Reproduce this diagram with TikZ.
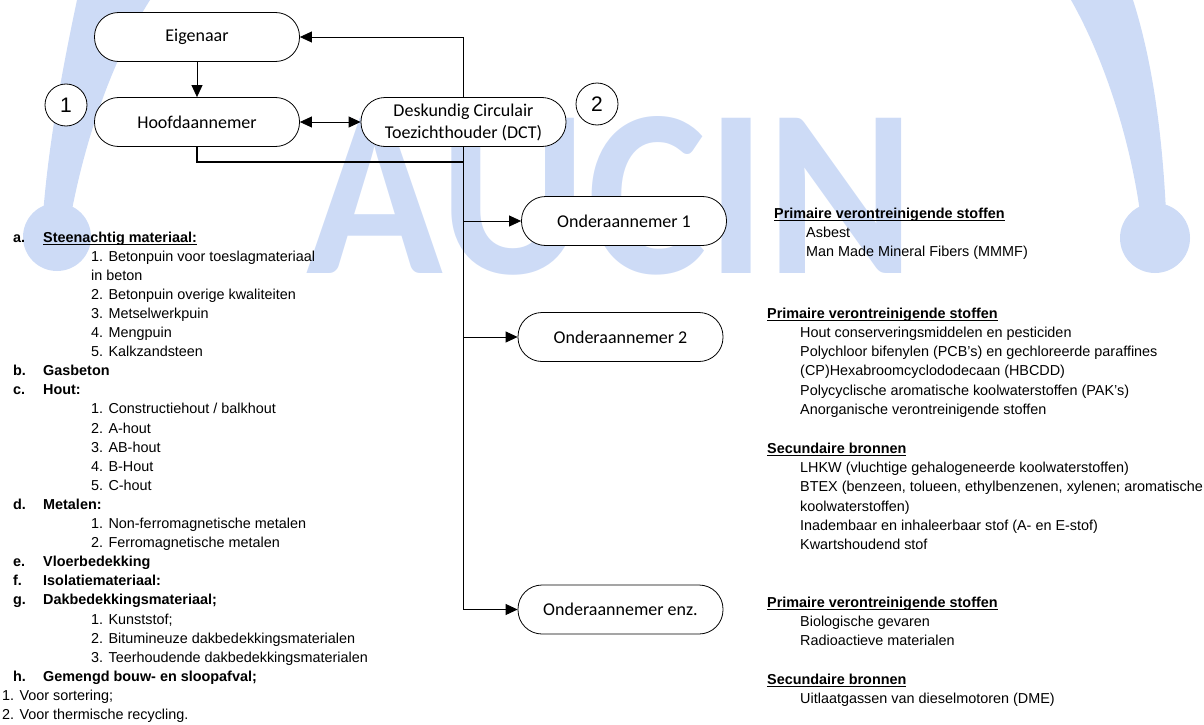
\documentclass[tikz,border=0pt]{standalone}
\usepackage{fontspec}
\setmainfont{Liberation Sans}
\newfontfamily\knoopfont{Carlito}
\usetikzlibrary{arrows.meta,positioning}
\definecolor{aucinblauw}{RGB}{205,219,246}
\newcommand{\onderstreept}[1]{\setbox0\hbox{#1}\rlap{\rule[-2.6pt]{\wd0}{0.9pt}}\box0}
\tikzset{
  knoop/.style={draw, fill=white, rounded corners=24pt, minimum width=205pt, minimum height=49pt,
    inner sep=0pt, align=center, line width=0.8pt, font=\knoopfont\fontsize{18}{22}\selectfont},
  nummer/.style={draw, fill=white, circle, minimum size=42pt, inner sep=0pt, line width=0.8pt,
    font=\fontsize{21}{21}\selectfont},
  pijl/.style={-{Triangle[length=12pt,width=11pt]}, line width=0.8pt},
  dubbelpijl/.style={{Triangle[length=12pt,width=11pt]}-{Triangle[length=12pt,width=11pt]}, line width=0.8pt},
  lijst/.style={anchor=base west, inner sep=0pt, font=\fontsize{14.4}{19.1}\selectfont},
  lijstr/.style={anchor=base west, inner sep=0pt, font=\fontsize{14.4}{19.3}\selectfont},
}
\begin{document}
\begin{tikzpicture}[x=1pt, y=-1pt]  %pixels
\useasboundingbox (0,0) rectangle (1204,725);
        %Watermerk
\fill[aucinblauw] (77,0) .. controls (60,80) and (48,150) .. (43,215) -- (71,215) .. controls (85,140) and (112,60) .. (150,0) -- cycle;
\fill[aucinblauw] (57,237) circle (34pt);
\fill[aucinblauw] (1071,0) .. controls (1105,60) and (1130,140) .. (1140,212) -- (1166,212) .. controls (1162,130) and (1152,60) .. (1133,0) -- cycle;
\fill[aucinblauw] (1155,238) circle (35pt);
\node[aucinblauw, anchor=base, inner sep=0pt, font=\knoopfont\bfseries\fontsize{240}{240}\selectfont] (watermerk) at (611,273) {\resizebox{608pt}{157pt}{AUCIN}};
        %Knopen
\node[knoop] (eigenaar) at (197,37) {Eigenaar};
\node[knoop] (hoofd) at (197,122) {Hoofdaannemer};
\node[knoop] (dct) at (463.5,122) {Deskundig Circulair\\Toezichthouder (DCT)};
\node[knoop] (onder1) at (624,221) {Onderaannemer 1};
\node[knoop] (onder2) at (620.5,337) {Onderaannemer 2};
\node[knoop] (onderenz) at (620.5,609.5) {Onderaannemer enz.};
\node[nummer] (een) at (66,105) {1};
\node[nummer] (twee) at (597,104) {2};
        %Verbindingen
\draw[pijl] (eigenaar) -- (hoofd);
\draw[pijl] (dct.north) |- (eigenaar.east);
\draw[dubbelpijl] (hoofd) -- (dct);
\coordinate (knik) at (463.5,162);
\draw[line width=1.5pt] (hoofd.south) |- (knik);
\draw[line width=1.5pt] (dct.south) -- (knik);
\draw[pijl] (knik) |- (onderenz.west);
\draw[pijl] (knik |- onder1.west) -- (onder1.west); %Onderaannemer 1
\draw[pijl] (knik |- onder2.west) -- (onder2.west); %Onderaannemer 2
        %Materialen
\node[lijst] (materialen) at (13,242) {\begin{tabular}[t]{@{}p{30pt}@{}l@{}}
\textbf{a.} & \onderstreept{\textbf{Steenachtig materiaal:}}\\
 & \hspace*{48pt}1. Betonpuin voor toeslagmateriaal\\
 & \hspace*{48pt}in beton\\
 & \hspace*{48pt}2. Betonpuin overige kwaliteiten\\
 & \hspace*{48pt}3. Metselwerkpuin\\
 & \hspace*{48pt}4. Mengpuin\\
 & \hspace*{48pt}5. Kalkzandsteen\\
\textbf{b.} & \textbf{Gasbeton}\\
\textbf{c.} & \textbf{Hout:}\\
 & \hspace*{48pt}1. Constructiehout / balkhout\\
 & \hspace*{48pt}2. A-hout\\
 & \hspace*{48pt}3. AB-hout\\
 & \hspace*{48pt}4. B-Hout\\
 & \hspace*{48pt}5. C-hout\\
\textbf{d.} & \textbf{Metalen:}\\
 & \hspace*{48pt}1. Non-ferromagnetische metalen\\
 & \hspace*{48pt}2. Ferromagnetische metalen\\
\textbf{e.} & \textbf{Vloerbedekking}\\
\textbf{f.} & \textbf{Isolatiemateriaal:}\\
\textbf{g.} & \textbf{Dakbedekkingsmateriaal;}\\
 & \hspace*{48pt}1. Kunststof;\\
 & \hspace*{48pt}2. Bitumineuze dakbedekkingsmaterialen\\
 & \hspace*{48pt}3. Teerhoudende dakbedekkingsmaterialen\\
\textbf{h.} & \textbf{Gemengd bouw- en sloopafval;}\\
\multicolumn{2}{@{}l@{}}{\hspace*{-11pt}1. Voor sortering;}\\
\multicolumn{2}{@{}l@{}}{\hspace*{-11pt}2. Voor thermische recycling.}
\end{tabular}};
        %Stoffen
\node[lijstr] (stoffen1) at (774,218) {\begin{tabular}[t]{@{}l@{}}
\onderstreept{\textbf{Primaire verontreinigende stoffen}}\\
\hspace*{32pt}Asbest\\
\hspace*{32pt}Man Made Mineral Fibers (MMMF)
\end{tabular}};
\node[lijstr] (stoffen2) at (767,318) {\begin{tabular}[t]{@{}l@{}}
\onderstreept{\textbf{Primaire verontreinigende stoffen}}\\
\hspace*{33pt}Hout conserveringsmiddelen en pesticiden\\
\hspace*{33pt}Polychloor bifenylen (PCB's) en gechloreerde paraffines\\
\hspace*{33pt}(CP)Hexabroomcyclododecaan (HBCDD)\\
\hspace*{33pt}Polycyclische aromatische koolwaterstoffen (PAK's)\\
\hspace*{33pt}Anorganische verontreinigende stoffen\\
\\
\onderstreept{\textbf{Secundaire bronnen}}\\
\hspace*{33pt}LHKW (vluchtige gehalogeneerde koolwaterstoffen)\\
\hspace*{33pt}BTEX (benzeen, tolueen, ethylbenzenen, xylenen; aromatische\\
\hspace*{33pt}koolwaterstoffen)\\
\hspace*{33pt}Inadembaar en inhaleerbaar stof (A- en E-stof)\\
\hspace*{33pt}Kwartshoudend stof
\end{tabular}};
\node[lijstr] (stoffen3) at (767,607) {\begin{tabular}[t]{@{}l@{}}
\onderstreept{\textbf{Primaire verontreinigende stoffen}}\\
\hspace*{33pt}Biologische gevaren\\
\hspace*{33pt}Radioactieve materialen\\
\\
\onderstreept{\textbf{Secundaire bronnen}}\\
\hspace*{33pt}Uitlaatgassen van dieselmotoren (DME)
\end{tabular}};
\end{tikzpicture}
\end{document}
